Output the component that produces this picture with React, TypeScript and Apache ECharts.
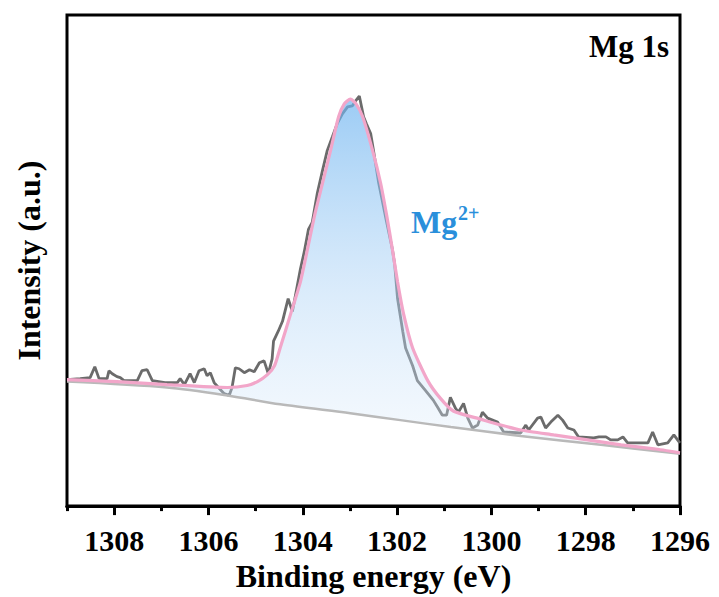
import React, { useEffect, useRef } from "react";
import * as echarts from "echarts";

const FONT = "'Times New Roman', 'Liberation Serif', serif";

// Measured Mg 1s spectrum (binding energy in eV, intensity in a.u.)
const rawEnergy = [
  1309.0, 1308.72, 1308.51, 1308.41, 1308.32, 1308.15, 1308.11, 1308.04, 1307.94, 1307.87,
  1307.79, 1307.51, 1307.41, 1307.3, 1307.19, 1306.92, 1306.66, 1306.6, 1306.51, 1306.39,
  1306.3, 1306.2, 1306.09, 1306.03, 1305.96, 1305.88, 1305.77, 1305.67, 1305.56, 1305.5,
  1305.43, 1305.35, 1305.24, 1305.13, 1305.03, 1304.92, 1304.82, 1304.73, 1304.65, 1304.62,
  1304.52, 1304.43, 1304.31, 1304.22, 1304.05, 1303.97, 1303.88, 1303.8, 1303.69, 1303.58,
  1303.48, 1303.37, 1303.27, 1303.16, 1303.05, 1302.95, 1302.88, 1302.8, 1302.71, 1302.65,
  1302.56, 1302.5, 1302.39, 1302.25, 1302.1, 1302.05, 1301.99, 1301.88, 1301.82, 1301.67,
  1301.57, 1301.4, 1301.23, 1301.14, 1301.04, 1300.95, 1300.87, 1300.76, 1300.7, 1300.59,
  1300.5, 1300.4, 1300.29, 1300.19, 1300.08, 1299.87, 1299.74, 1299.38, 1299.27, 1299.21,
  1299.02, 1298.95, 1298.85, 1298.74, 1298.59, 1298.49, 1298.38, 1298.25, 1298.15, 1297.83,
  1297.72, 1297.57, 1297.47, 1297.32, 1297.21, 1297.11, 1296.68, 1296.58, 1296.47, 1296.26,
  1296.13, 1296.02, 1296.0,
];
const rawIntensity = [
  128, 129, 130, 141, 129, 129, 137, 134, 131, 130,
  127, 127, 137, 138, 127, 125, 125, 129, 123, 134,
  125, 137, 139, 132, 135, 125, 119, 114, 112, 120,
  140, 139, 135, 138, 136, 145, 147, 134, 149, 167,
  177, 187, 210, 197, 240, 257, 280, 287, 317, 340,
  360, 374, 387, 397, 404, 405, 410, 415, 394, 387,
  377, 360, 327, 294, 260, 244, 210, 177, 160, 142,
  127, 117, 107, 100, 92, 92, 110, 99, 95, 104,
  89, 79, 82, 95, 89, 85, 75, 74, 82, 77,
  89, 90, 79, 85, 92, 87, 79, 77, 70, 69,
  70, 70, 67, 67, 70, 64, 64, 75, 62, 64,
  72, 65, 64,
];

// Fitted envelope (Mg2+ component + background)
const fitEnergy = [
  1309.0, 1307.94, 1306.88, 1305.6, 1305.18, 1304.96, 1304.75, 1304.6, 1304.48, 1304.26,
  1304.05, 1303.9, 1303.75, 1303.58, 1303.41, 1303.24, 1303.12, 1302.99, 1302.87, 1302.73,
  1302.52, 1302.35, 1302.22, 1302.1, 1301.99, 1301.86, 1301.67, 1301.35, 1301.08, 1300.8,
  1300.23, 1299.8, 1299.38, 1298.68, 1297.96, 1297.25, 1296.55, 1296.0,
];
const fitIntensity = [
  128, 126, 123, 120, 122, 126, 133, 142, 160, 194,
  227, 260, 294, 327, 360, 394, 407, 412, 407, 394,
  360, 327, 294, 260, 227, 194, 160, 127, 109, 96,
  88, 82, 77, 72, 67, 62, 58, 54,
];

// Shirley-type background
const bgEnergy = [1309.0, 1306.88, 1305.6, 1304.48, 1302.99, 1301.93, 1300.86, 1299.38, 1297.68, 1296.0];
const bgIntensity = [126, 120, 112, 103, 94, 87, 80, 71, 62, 53];

const xTicks = { min: 1296, max: 1309, major: 2, minor: 1 };

const zip = (xs: number[], ys: number[]) => xs.map((x, i) => [x, ys[i]]);

export default function App() {
  const ref = useRef<HTMLDivElement>(null);

  useEffect(() => {
    if (!ref.current) return;
    const chart = echarts.init(ref.current, null, { renderer: "svg" });

    const peakFill = new echarts.graphic.LinearGradient(0, 0, 0, 1, [
      { offset: 0, color: "rgba(110,180,240,0.68)" },
      { offset: 0.55, color: "rgba(175,212,246,0.45)" },
      { offset: 1, color: "rgba(225,238,251,0.3)" },
    ]);

    chart.setOption({
      animation: false,
      backgroundColor: "#fff",
      grid: {
        left: 67,
        right: 39,
        top: 15,
        bottom: 85,
        show: true,
        borderColor: "#000",
        borderWidth: 3,
        backgroundColor: "transparent",
      },
      xAxis: [
        {
          type: "value",
          min: xTicks.min,
          max: xTicks.max,
          interval: xTicks.major,
          inverse: true,
          name: "Binding energy (eV)",
          nameLocation: "middle",
          nameGap: 52,
          nameTextStyle: { fontFamily: FONT, fontWeight: "bold", fontSize: 32, color: "#000" },
          axisLine: { show: true, lineStyle: { color: "#000", width: 3 } },
          axisTick: { show: true, length: 9, lineStyle: { color: "#000", width: 3 } },
          axisLabel: {
            fontFamily: FONT,
            fontWeight: "bold",
            fontSize: 30,
            color: "#000",
            margin: 19,
            showMaxLabel: false,
            formatter: (v: number) => String(v),
          },
          splitLine: { show: false },
          z: 10,
        },
        {
          type: "value",
          position: "bottom",
          offset: 0,
          min: xTicks.min,
          max: xTicks.max,
          interval: xTicks.minor,
          inverse: true,
          axisLine: { show: true, lineStyle: { color: "#000", width: 3 } },
          axisTick: { show: true, length: 5, lineStyle: { color: "#000", width: 3 } },
          axisLabel: { show: false },
          splitLine: { show: false },
          z: 9,
        },
      ],
      yAxis: {
        type: "value",
        min: 0,
        max: 497,
        name: "Intensity (a.u.)",
        nameLocation: "middle",
        nameGap: 22,
        nameTextStyle: { fontFamily: FONT, fontWeight: "bold", fontSize: 32, color: "#000" },
        axisLine: { show: false },
        axisTick: { show: false },
        axisLabel: { show: false },
        splitLine: { show: false },
      },
      series: [
        {
          name: "Raw",
          type: "line",
          xAxisIndex: 0,
          data: zip(rawEnergy, rawIntensity),
          showSymbol: false,
          lineStyle: { color: "#6b6b6b", width: 2.8 },
          z: 2,
        },
        {
          name: "Mg2+",
          type: "custom",
          xAxisIndex: 0,
          data: [[1303, 200]],
          silent: true,
          z: 3,
          renderItem: (_params: any, api: any) => {
            const top = fitEnergy.map((e, i) => api.coord([e, fitIntensity[i]]));
            const bottom = bgEnergy.map((e, i) => api.coord([e, bgIntensity[i]])).reverse();
            return {
              type: "polygon",
              shape: { points: top.concat(bottom) },
              style: { fill: peakFill },
            };
          },
        },
        {
          name: "Background",
          type: "line",
          xAxisIndex: 0,
          data: zip(bgEnergy, bgIntensity),
          showSymbol: false,
          smooth: 0.3,
          lineStyle: { color: "#b9b9b9", width: 2.5 },
          z: 4,
        },
        {
          name: "Fit",
          type: "line",
          xAxisIndex: 0,
          data: zip(fitEnergy, fitIntensity),
          showSymbol: false,
          smooth: 0.2,
          lineStyle: { color: "#f2a6c9", width: 3.2 },
          z: 5,
        },
      ],
      graphic: [
        {
          type: "text",
          x: 669,
          y: 46,
          style: {
            text: "Mg 1s",
            font: `bold 31px ${FONT}`,
            fill: "#000",
            align: "right",
            verticalAlign: "middle",
            textAlign: "right",
            textVerticalAlign: "middle",
          },
        },
        {
          type: "text",
          x: 411,
          y: 222,
          style: {
            text: "Mg",
            font: `bold 32px ${FONT}`,
            fill: "#2a8fdb",
            align: "left",
            verticalAlign: "middle",
            textAlign: "left",
            textVerticalAlign: "middle",
          },
        },
        {
          type: "text",
          x: 458,
          y: 213,
          style: {
            text: "2+",
            font: `bold 20px ${FONT}`,
            fill: "#2a8fdb",
            align: "left",
            verticalAlign: "middle",
            textAlign: "left",
            textVerticalAlign: "middle",
          },
        },
      ],
    });

    return () => chart.dispose();
  }, []);

  return (
    <div
      ref={ref}
      style={{ position: "fixed", left: 0, top: 0, width: 719, height: 597, background: "#fff" }}
    />
  );
}
